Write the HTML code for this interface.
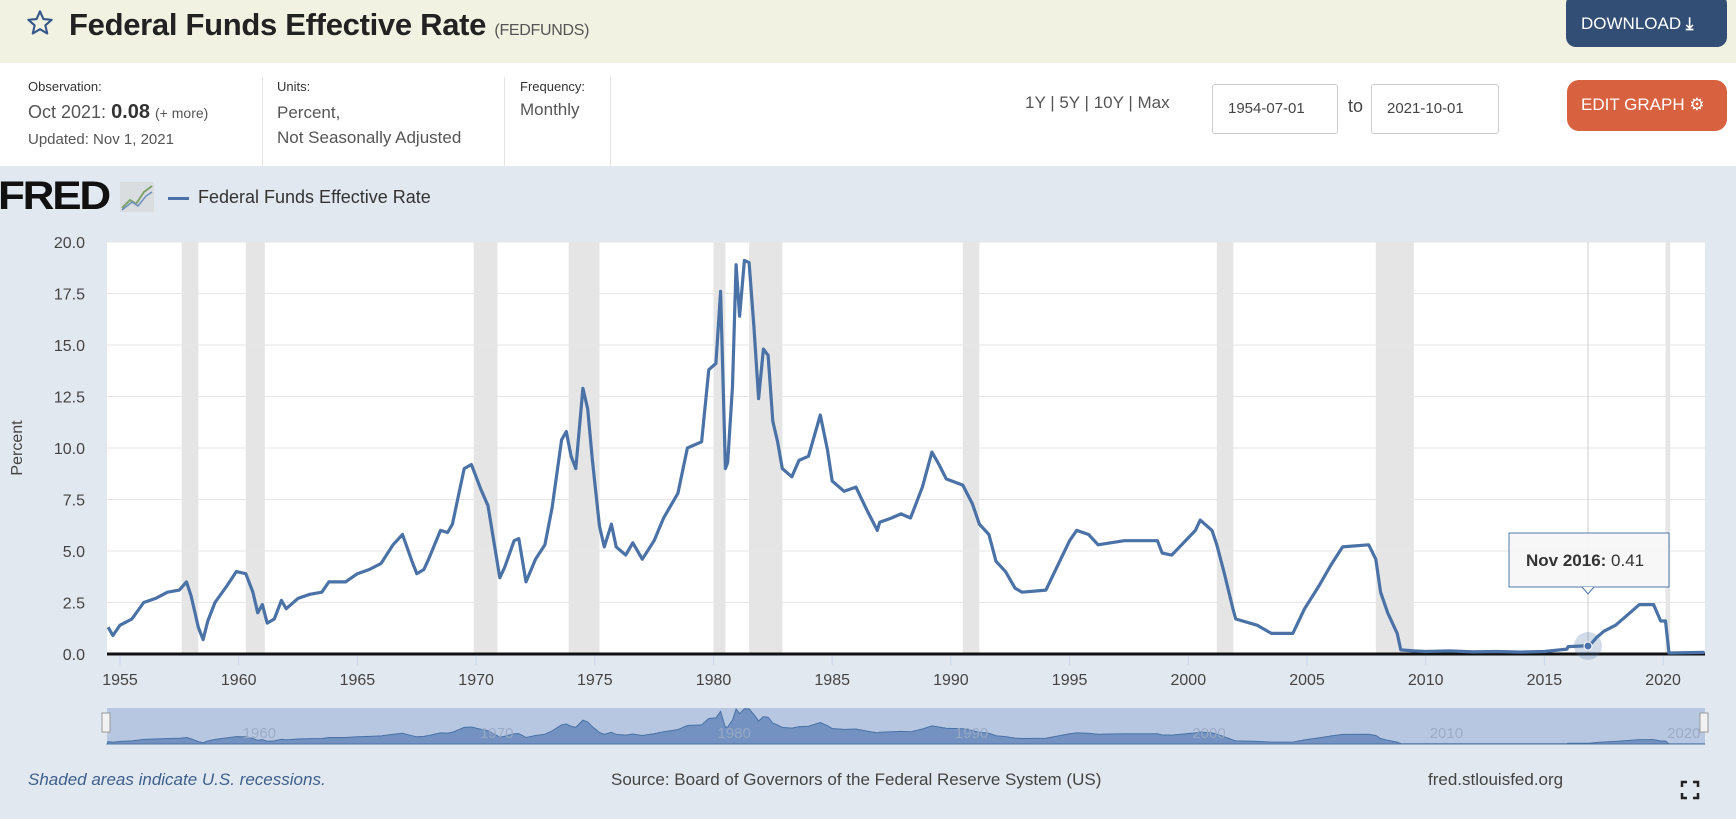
<!DOCTYPE html>
<html><head><meta charset="utf-8">
<style>
*{margin:0;padding:0;box-sizing:border-box}
body{width:1736px;height:819px;overflow:hidden;background:#e1e8ef;font-family:"Liberation Sans",sans-serif;position:relative;color:#333}
.abs{position:absolute;white-space:nowrap}
</style></head><body>
<div class="abs" style="left:0;top:0;width:1736px;height:63px;background:#f1f2e1"></div>
<div class="abs" style="left:0;top:63px;width:1736px;height:103px;background:#fff"></div>
<svg class="abs" style="left:26px;top:9px" width="28" height="28" viewBox="0 0 24 24"><path d="M12 2 L14.9 8.6 L22 9.3 L16.6 14 L18.2 21 L12 17.3 L5.8 21 L7.4 14 L2 9.3 L9.1 8.6 Z" fill="none" stroke="#35588a" stroke-width="1.8" stroke-linejoin="round"/></svg>
<div class="abs" style="left:69px;top:7px;font-size:31px;font-weight:bold;color:#222;letter-spacing:-0.3px">Federal Funds Effective Rate <span style="font-size:16px;font-weight:normal;color:#555">(FEDFUNDS)</span></div>
<div class="abs" style="left:1566px;top:-6px;width:161px;height:53px;background:#324e74;border-radius:10px;color:#fff;font-size:17px;padding:20px 0 0 15px">DOWNLOAD <b>⤓</b></div>
<div class="abs" style="left:28px;top:79px;font-size:13px;color:#333">Observation:</div>
<div class="abs" style="left:28px;top:101px;font-size:18px;color:#555">Oct 2021: <b style="font-size:20px;color:#333">0.08</b> <span style="font-size:14px">(+ more)</span></div>
<div class="abs" style="left:28px;top:131px;font-size:15px;color:#555">Updated: Nov 1, 2021</div>
<div class="abs" style="left:262px;top:77px;width:1px;height:89px;background:#e4e4e4"></div>
<div class="abs" style="left:504px;top:77px;width:1px;height:89px;background:#e4e4e4"></div>
<div class="abs" style="left:610px;top:77px;width:1px;height:89px;background:#e4e4e4"></div>
<div class="abs" style="left:277px;top:79px;font-size:13px">Units:</div>
<div class="abs" style="left:277px;top:100px;font-size:17px;color:#555;line-height:25px">Percent,<br>Not Seasonally Adjusted</div>
<div class="abs" style="left:520px;top:79px;font-size:13px">Frequency:</div>
<div class="abs" style="left:520px;top:100px;font-size:17px;color:#555">Monthly</div>
<div class="abs" style="left:1025px;top:93px;font-size:17px;color:#555">1Y | 5Y | 10Y | Max</div>
<div class="abs" style="left:1212px;top:84px;width:126px;height:50px;border:1px solid #ccc;border-radius:3px;font-size:15px;color:#444;padding:15px 0 0 15px;background:#fff">1954-07-01</div>
<div class="abs" style="left:1348px;top:96px;font-size:18px;color:#444">to</div>
<div class="abs" style="left:1371px;top:84px;width:128px;height:50px;border:1px solid #ccc;border-radius:3px;font-size:15px;color:#444;padding:15px 0 0 15px;background:#fff">2021-10-01</div>
<div class="abs" style="left:1567px;top:80px;width:160px;height:51px;background:#d8623f;border-radius:12px;color:#fff;font-size:17px;padding:15px 0 0 14px">EDIT GRAPH ⚙</div>

<div class="abs" style="left:-2px;top:174px;font-size:40px;font-weight:900;color:#111;letter-spacing:-2px;transform:scaleX(1.1);transform-origin:left">FRED</div>
<svg class="abs" style="left:120px;top:182px" width="34" height="30"><rect width="34" height="30" fill="#d9dde0"/><polyline points="2,26 10,18 16,22 24,10 32,4" fill="none" stroke="#7fa26b" stroke-width="2"/><polyline points="2,28 12,20 18,24 26,14 32,10" fill="none" stroke="#6d8fc0" stroke-width="1.5"/></svg>
<div class="abs" style="left:168px;top:197px;width:21px;height:3px;background:#4a72a6"></div>
<div class="abs" style="left:198px;top:187px;font-size:18px;color:#333">Federal Funds Effective Rate</div>

<svg class="abs" style="left:0;top:0" width="1736" height="819" id="s" font-family="Liberation Sans, sans-serif"></svg>

<div class="abs" style="left:28px;top:770px;font-size:17px;font-style:italic;color:#3e5f8c">Shaded areas indicate U.S. recessions.</div>
<div class="abs" style="left:611px;top:770px;font-size:17px;color:#444">Source: Board of Governors of the Federal Reserve System (US)</div>
<div class="abs" style="left:1428px;top:770px;font-size:17px;color:#444">fred.stlouisfed.org</div>
<svg class="abs" style="left:1680px;top:780px" width="20" height="20"><path d="M2 7V2h5M13 2h5v5M18 13v5h-5M7 18H2v-5" fill="none" stroke="#222" stroke-width="2.5"/></svg>

<script>
var d=[[1954.5,1.3],[1954.7,0.9],[1955,1.4],[1955.5,1.7],[1956,2.5],[1956.5,2.7],[1957,3.0],[1957.5,3.1],[1957.8,3.5],[1958,2.8],[1958.3,1.3],[1958.5,0.7],[1958.7,1.6],[1959,2.5],[1959.5,3.3],[1959.9,4.0],[1960.3,3.9],[1960.6,3.0],[1960.8,2.0],[1961,2.4],[1961.2,1.5],[1961.5,1.7],[1961.8,2.6],[1962,2.2],[1962.5,2.7],[1963,2.9],[1963.5,3.0],[1963.8,3.5],[1964.5,3.5],[1965,3.9],[1965.5,4.1],[1966,4.4],[1966.5,5.3],[1966.9,5.8],[1967.3,4.5],[1967.5,3.9],[1967.8,4.1],[1968,4.6],[1968.5,6.0],[1968.8,5.9],[1969,6.3],[1969.5,9.0],[1969.8,9.2],[1970.2,8.0],[1970.5,7.2],[1971,3.7],[1971.2,4.2],[1971.6,5.5],[1971.8,5.6],[1972.1,3.5],[1972.5,4.6],[1972.9,5.3],[1973.2,7.1],[1973.6,10.4],[1973.8,10.8],[1974,9.6],[1974.2,9.0],[1974.5,12.9],[1974.7,11.9],[1974.9,9.4],[1975.2,6.2],[1975.4,5.2],[1975.7,6.3],[1975.9,5.2],[1976.3,4.8],[1976.6,5.4],[1977,4.6],[1977.5,5.5],[1977.9,6.6],[1978.5,7.8],[1978.9,10.0],[1979.5,10.3],[1979.8,13.8],[1980.1,14.1],[1980.3,17.6],[1980.5,9.0],[1980.6,9.3],[1980.8,13.0],[1980.95,18.9],[1981.1,16.4],[1981.3,19.1],[1981.5,19.0],[1981.7,15.9],[1981.9,12.4],[1982.1,14.8],[1982.3,14.5],[1982.5,11.3],[1982.7,10.3],[1982.9,9.0],[1983.3,8.6],[1983.6,9.4],[1984,9.6],[1984.5,11.6],[1984.8,9.9],[1985,8.4],[1985.5,7.9],[1986,8.1],[1986.5,6.9],[1986.9,6.0],[1987,6.4],[1987.5,6.6],[1987.9,6.8],[1988.3,6.6],[1988.8,8.1],[1989.2,9.8],[1989.5,9.2],[1989.8,8.5],[1990.5,8.2],[1990.9,7.3],[1991.2,6.3],[1991.6,5.8],[1991.9,4.5],[1992.3,4.0],[1992.7,3.2],[1993,3.0],[1994,3.1],[1994.5,4.3],[1995,5.5],[1995.3,6.0],[1995.8,5.8],[1996.2,5.3],[1997.3,5.5],[1998.7,5.5],[1998.9,4.9],[1999.3,4.8],[1999.8,5.4],[2000.3,6.0],[2000.5,6.5],[2001,6.0],[2001.2,5.3],[2001.5,4.0],[2001.9,2.1],[2002,1.7],[2002.9,1.4],[2003.5,1.0],[2004.4,1.0],[2004.9,2.2],[2005.5,3.3],[2006,4.3],[2006.5,5.2],[2007.6,5.3],[2007.9,4.6],[2008.1,3.0],[2008.4,2.0],[2008.8,1.0],[2008.95,0.2],[2009.5,0.15],[2010,0.12],[2011,0.15],[2012,0.1],[2013,0.12],[2014,0.09],[2015,0.12],[2015.95,0.24],[2016,0.36],[2016.9,0.41],[2017.2,0.8],[2017.5,1.1],[2018,1.4],[2018.5,1.9],[2019,2.4],[2019.6,2.4],[2019.9,1.6],[2020.1,1.6],[2020.25,0.05],[2021.75,0.08]];
var X=function(y){return 120+(y-1955)*23.74},Y=function(v){return 654-v*20.6};
var s='<rect x="107" y="242" width="1598" height="412" fill="#fff"/>';
[[1957.6,1958.3],[1960.3,1961.1],[1969.9,1970.9],[1973.9,1975.2],[1980.0,1980.5],[1981.5,1982.9],[1990.5,1991.2],[2001.2,2001.9],[2007.9,2009.5],[2020.1,2020.3]].forEach(function(r){s+='<rect x="'+X(r[0])+'" y="242" width="'+(X(r[1])-X(r[0]))+'" height="412" fill="#e5e5e5"/>';});
for(var v=0;v<=20;v+=2.5){s+='<line x1="107" x2="1705" y1="'+Y(v)+'" y2="'+Y(v)+'" stroke="#e6e6e6"/>';s+='<text x="85" y="'+(Y(v)+6)+'" text-anchor="end" font-size="16" fill="#444">'+v.toFixed(1)+'</text>';}
for(var yr=1955;yr<=2020;yr+=5){var x=X(yr);s+='<line x1="'+x+'" x2="'+x+'" y1="656" y2="665" stroke="#ccd6eb"/><text x="'+x+'" y="685" text-anchor="middle" font-size="16" fill="#444">'+yr+'</text>';}
s+='<text transform="translate(22,448) rotate(-90)" text-anchor="middle" font-size="16" fill="#444">Percent</text>';
s+='<line x1="1588" x2="1588" y1="242" y2="654" stroke="#ccc"/>';
s+='<line x1="107" x2="1705" y1="654" y2="654" stroke="#111" stroke-width="3"/>';
var p='';d.forEach(function(a,i){p+=(i?'L':'M')+X(a[0]).toFixed(1)+','+Y(a[1]).toFixed(1);});
s+='<path d="'+p+'" fill="none" stroke="#4a72a6" stroke-width="3.2" stroke-linejoin="round"/>';
s+='<circle cx="1588" cy="646" r="14" fill="#4a72a6" opacity="0.25"/><circle cx="1588" cy="646" r="4" fill="#4a72a6" stroke="#fff" stroke-width="1"/>';
s+='<rect x="1509" y="533" width="160" height="54" fill="#f7f7f7" stroke="#4a72a6" opacity="0.95"/><path d="M1582,587 L1588,594 L1594,587" fill="#f7f7f7" stroke="#4a72a6"/><text x="1526" y="566" font-size="17" fill="#333"><tspan font-weight="bold">Nov 2016:</tspan> 0.41</text>';
s+='<rect x="107" y="708" width="1598" height="36" fill="#b7c7e1"/>';
var np='M107,744';d.forEach(function(a){np+='L'+X(a[0]).toFixed(1)+','+(744-a[1]*1.85).toFixed(1);});np+='L1705,744Z';
s+='<path d="'+np+'" fill="#7392c2" stroke="#4a72a6" stroke-width="1"/>';
[1960,1970,1980,1990,2000,2010,2020].forEach(function(yr){s+='<text x="'+(X(yr)+4)+'" y="738" font-size="15" fill="#9aaac4" opacity="0.9">'+yr+'</text>';});
s+='<rect x="102" y="713" width="8" height="19" fill="#f2f2f2" stroke="#999"/><rect x="1700" y="713" width="8" height="19" fill="#f2f2f2" stroke="#999"/>';
document.getElementById('s').innerHTML=s;
</script>
</body></html>
